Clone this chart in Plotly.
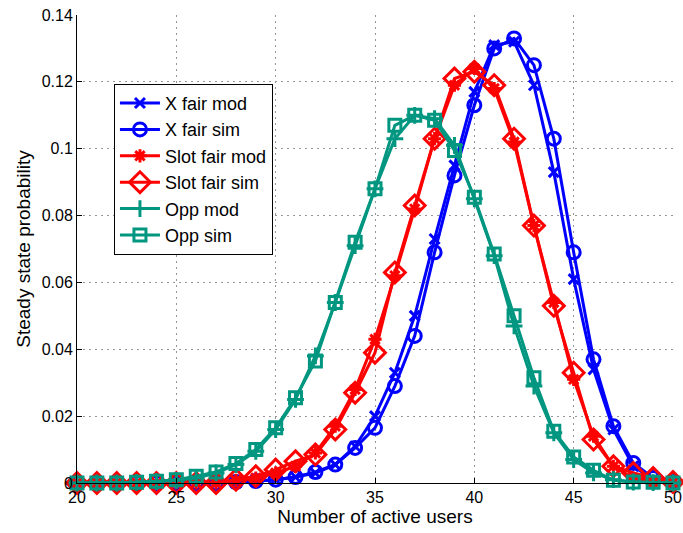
import plotly.graph_objects as go

users = list(range(20, 51))

x_fair_mod = [0, 0, 0, 0, 0, 0, 0, 0, 0, 0.0005, 0.001, 0.0018, 0.003, 0.0055, 0.011,
              0.020, 0.033, 0.050, 0.073, 0.095, 0.117, 0.131, 0.132, 0.119, 0.093,
              0.061, 0.034, 0.016, 0.005, 0.001, 0.0002]
x_fair_sim = [0, 0, 0, 0, 0, 0, 0, 0, 0.0003, 0.0006, 0.001, 0.0018, 0.0033, 0.0055, 0.0105,
              0.0165, 0.029, 0.044, 0.069, 0.092, 0.113, 0.130, 0.133, 0.125, 0.103,
              0.069, 0.037, 0.017, 0.006, 0.0015, 0.0003]
slot_fair_mod = [0, 0, 0, 0, 0, 0, 0, 0, 0.0008, 0.0015, 0.003, 0.005, 0.009, 0.017, 0.028,
                 0.043, 0.062, 0.082, 0.103, 0.119, 0.124, 0.118, 0.102, 0.077, 0.054,
                 0.031, 0.014, 0.005, 0.0015, 0.0004, 0.0001]
slot_fair_sim = [0, 0, 0, 0, 0, 0, 0, 0, 0.001, 0.002, 0.004, 0.0065, 0.0085, 0.016, 0.027,
                 0.039, 0.063, 0.083, 0.103, 0.121, 0.123, 0.119, 0.103, 0.077, 0.053,
                 0.033, 0.013, 0.005, 0.003, 0.0015, 0.0003]
opp_mod = [0, 0, 0, 0.0002, 0.0004, 0.0008, 0.0015, 0.003, 0.0055, 0.0095, 0.016, 0.025,
           0.038, 0.054, 0.071, 0.088, 0.103, 0.110, 0.109, 0.101, 0.085, 0.068, 0.047,
           0.029, 0.015, 0.007, 0.003, 0.001, 0.0003, 0.0001, 0]
opp_sim = [0, 0, 0, 0.0002, 0.0005, 0.001, 0.002, 0.0033, 0.0058, 0.010, 0.0165, 0.0255,
           0.0365, 0.054, 0.072, 0.088, 0.107, 0.110, 0.1085, 0.0995, 0.0855, 0.0685, 0.050,
           0.0315, 0.0155, 0.0078, 0.0038, 0.0008, 0.0003, 0.0002, 0]

x_ticks = [20, 25, 30, 35, 40, 45, 50]
y_ticks = [0, 0.02, 0.04, 0.06, 0.08, 0.1, 0.12, 0.14]

BLUE = "rgb(0,0,255)"
RED = "rgb(255,0,0)"
TEAL = "rgb(0,150,128)"

series = [
    ("X fair mod", x_fair_mod, BLUE, "x-thin-open", 10),
    ("X fair sim", x_fair_sim, BLUE, "circle-open", 13),
    ("Slot fair mod", slot_fair_mod, RED, "asterisk-open", 11),
    ("Slot fair sim", slot_fair_sim, RED, "diamond-open", 16),
    ("Opp mod", opp_mod, TEAL, "cross-thin-open", 12),
    ("Opp sim", opp_sim, TEAL, "square-open", 12),
]

fig = go.Figure()
for name, vals, col, sym, size in series:
    fig.add_trace(go.Scatter(
        x=users, y=vals, name=name, mode="lines+markers",
        line=dict(color=col, width=3),
        marker=dict(symbol=sym, size=size, color=col, line=dict(color=col, width=3)),
        cliponaxis=False,
    ))

font = dict(family="Liberation Sans, Arial, sans-serif", size=16, color="black")
grid_dash = "2px,4px"
fig.update_layout(
    width=683, height=533,
    margin=dict(l=77, r=10, t=15, b=50),
    plot_bgcolor="white", paper_bgcolor="white",
    font=font,
    showlegend=True,
    legend=dict(x=0.062, y=0.853, xanchor="left", yanchor="top",
                bgcolor="white", bordercolor="black", borderwidth=1,
                font=dict(size=18), tracegroupgap=0, itemwidth=40),
)
fig.update_xaxes(
    range=[20, 50], tickvals=x_ticks, ticks="inside", ticklen=5, tickcolor="black",
    showline=True, linecolor="black", linewidth=1, mirror=False,
    showgrid=True, gridcolor="rgb(150,150,150)", griddash=grid_dash, gridwidth=1,
    zeroline=False, automargin=False,
    title=dict(text="Number of active users", standoff=2),
)
fig.update_yaxes(
    range=[0, 0.14], tickvals=y_ticks, ticks="inside", ticklen=5, tickcolor="black",
    showline=True, linecolor="black", linewidth=1, mirror=False,
    showgrid=True, gridcolor="rgb(150,150,150)", griddash=grid_dash, gridwidth=1,
    zeroline=False, automargin=False,
    title=dict(text="Steady state probability", standoff=6),
)

fig.write_html("out.html", config={"displayModeBar": False},
               post_script="document.body.style.margin='0';")
